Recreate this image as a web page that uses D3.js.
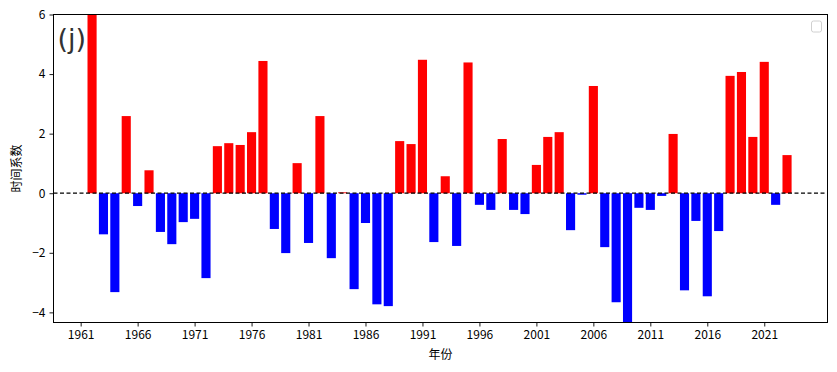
<!DOCTYPE html>
<html><head><meta charset="utf-8">
<script src="https://cdn.jsdelivr.net/npm/d3@7"></script>
<style>
body{margin:0;background:#fff;}
svg text{font-family:"Noto Sans CJK SC","DejaVu Sans",sans-serif;}
</style></head>
<body><svg id="c" width="837" height="372"></svg>
<script>
const years = d3.range(1962, 2024);
const values = [
 6.3, -1.38, -3.32, 2.59, -0.43, 0.77, -1.30, -1.71, -0.97, -0.86,
 -2.85, 1.58, 1.68, 1.62, 2.05, 4.44, -1.20, -2.01, 1.01, -1.67,
 2.59, -2.18, 0.03, -3.22, -1.00, -3.73, -3.79, 1.75, 1.65, 4.48,
 -1.64, 0.57, -1.77, 4.39, -0.39, -0.56, 1.82, -0.56, -0.70, 0.95,
 1.89, 2.05, -1.24, -0.05, 3.60, -1.81, -3.66, -4.6, -0.49, -0.56,
 -0.09, 1.99, -3.26, -0.93, -3.46, -1.27, 3.94, 4.07, 1.89, 4.41,
 -0.39, 1.28
];
const xTicks = d3.range(1961, 2024, 5);
const yTicks = [-4, -2, 0, 2, 4, 6];
const yDomain = [-4.34, 6.0];
const panelLabel = "(j)";
const xLabel = "年份";
const yLabel = "时间系数";

const svg = d3.select("#c");
const L = 53.5, R = 827.5, T = 14.5, B = 322.5;
const bw = 0.8;
const lo = d3.min(years) - bw/2, hi = d3.max(years) + bw/2;
const m = (hi - lo) * 0.05;
const x = d3.scaleLinear().domain([lo - m, hi + m]).range([52.3, 826.8]);
const y = d3.scaleLinear().domain(yDomain).range([B, T]);

svg.append("defs").append("clipPath").attr("id","clip")
  .append("rect").attr("x",L).attr("y",T).attr("width",R-L).attr("height",B-T);

const g = svg.append("g").attr("clip-path","url(#clip)");
g.selectAll("rect.bar").data(years.map((yr,i)=>({yr, v: values[i]})))
  .enter().append("rect").attr("class","bar")
  .attr("x", d => x(d.yr - bw/2))
  .attr("width", d => x(d.yr + bw/2) - x(d.yr - bw/2))
  .attr("y", d => y(Math.max(0, d.v)))
  .attr("height", d => Math.abs(y(d.v) - y(0)))
  .attr("fill", d => d.v >= 0 ? "#ff0000" : "#0000ff");

g.append("line").attr("x1",L).attr("x2",R).attr("y1",y(0)).attr("y2",y(0))
  .attr("stroke","#000").attr("stroke-width",1.2).attr("stroke-dasharray","4,2.5");

const xAxis = d3.axisBottom(x).tickValues(xTicks).tickFormat(d3.format("d")).tickSize(4).tickPadding(4);
const xg = svg.append("g").attr("transform",`translate(0,${B})`).call(xAxis);
const yAxis = d3.axisLeft(y).tickValues(yTicks).tickFormat(d => d < 0 ? "\u2212" + Math.abs(d) : d).tickSize(4).tickPadding(4);
const yg = svg.append("g").attr("transform",`translate(${L},0)`).call(yAxis);
[xg, yg].forEach(a => {
  a.select(".domain").remove();
  a.selectAll("text").attr("font-size", 12).attr("fill","#000")
    .style("font-family", '"Noto Sans CJK SC","DejaVu Sans",sans-serif');
  a.selectAll("line").attr("stroke","#000").attr("stroke-width",0.9);
});

svg.append("rect").attr("x",L).attr("y",T).attr("width",R-L).attr("height",B-T)
  .attr("fill","none").attr("stroke","#000").attr("stroke-width",1);

svg.append("text").attr("x", L + 4).attr("y", T + 33).text(panelLabel)
  .attr("font-size", 27).attr("fill","#333")
  .style("font-family",'"DejaVu Sans",sans-serif');

// empty legend box
svg.append("rect").attr("x", R - 16).attr("y", 21).attr("width", 10).attr("height", 11)
  .attr("rx", 2).attr("fill","#fff").attr("stroke","#d0d0d0").attr("stroke-width",1);

svg.append("text").attr("x", (L+R)/2).attr("y", 359).attr("text-anchor","middle")
  .attr("font-size", 12).text(xLabel);
svg.append("text").attr("transform", `translate(21,${(T+B)/2}) rotate(-90)`)
  .attr("text-anchor","middle").attr("font-size", 12).text(yLabel);
</script></body></html>
